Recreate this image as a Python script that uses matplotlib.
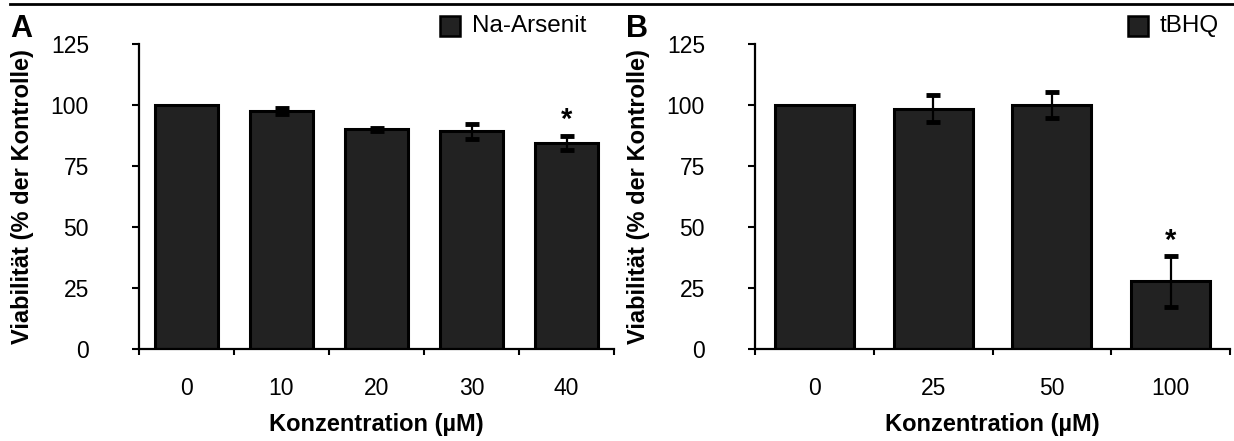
import matplotlib
matplotlib.use("Agg")
import matplotlib.pyplot as plt
from matplotlib.patches import Rectangle
from matplotlib.lines import Line2D
import numpy as np

plt.rcParams['font.family'] = ['Liberation Sans', 'DejaVu Sans']

# ---- data ----
cats_a = ["0", "10", "20", "30", "40"]
vals_a = [100.0, 97.3, 89.9, 89.1, 84.4]
errs_a = [0.0, 1.2, 0.7, 3.2, 3.0]
sig_a = [False, False, False, False, True]
legend_a = "Na-Arsenit"

cats_b = ["0", "25", "50", "100"]
vals_b = [100.0, 98.4, 100.0, 27.7]
errs_b = [0.0, 5.4, 5.3, 10.5]
sig_b = [False, False, False, True]
legend_b = "tBHQ"

xlabel = "Konzentration (µM)"
ylabel = "Viabilität (% der Kontrolle)"
yticks = [0, 25, 50, 75, 100, 125]

W, H = 1234, 441
fig = plt.figure(figsize=(W / 100, H / 100), dpi=100)

bar_fc = "#222222"

def px(x, y):
    return x / W, 1 - y / H

def panel(left_px, cats, vals, errs, sig, letter, leg_text, leg_box_px, leg_text_px):
    ax_w = 475 / W
    ax = fig.add_axes([left_px / W, 1 - 349 / H, ax_w, (349 - 43.7) / H])
    n = len(cats)
    x = np.arange(n)
    ax.bar(x, vals, width=0.665, color=bar_fc, edgecolor="black", linewidth=2.2, zorder=2)
    idx = [i for i in range(n) if errs[i] > 0]
    ax.errorbar([x[i] for i in idx], [vals[i] for i in idx], yerr=[errs[i] for i in idx],
                fmt="none", ecolor="black", elinewidth=1.6,
                capsize=5, capthick=3.5, zorder=3)
    for xi, v, e, s in zip(x, vals, errs, sig):
        if s:
            ax.text(xi, v + e + 0.5, "*", ha="center", va="bottom", fontsize=21,
                    fontweight="bold", zorder=4)
    ax.set_xlim(-0.5, n - 0.5)
    ax.set_ylim(0, 125)
    ax.set_yticks(yticks)
    ax.set_yticklabels([str(t) for t in yticks], fontsize=16.5)
    ax.set_xticks(x)
    ax.set_xticklabels(cats, fontsize=16.5)
    ax.set_xticks(np.arange(n + 1) - 0.5, minor=True)
    ax.tick_params(axis="x", which="major", length=0, pad=20)
    ax.tick_params(axis="x", which="minor", length=4.5, width=1.5, direction="out")
    ax.tick_params(axis="y", which="major", length=5, width=1.5, direction="out", pad=31)
    for sp in ["top", "right"]:
        ax.spines[sp].set_visible(False)
    for sp in ["left", "bottom"]:
        ax.spines[sp].set_linewidth(1.6)
    ax.set_xlabel(xlabel, fontsize=17, fontweight="bold", va="center")
    ax.xaxis.set_label_coords(0.5, -(424 - 349) / 305.3)
    ax.set_ylabel(ylabel, fontsize=17, fontweight="bold", va="center")
    ax.yaxis.set_label_coords(-(139 - 23) / 475, 0.5)
    # panel letter
    lx, ly = px(left_px - 118, 29)
    fig.text(lx, ly, letter, fontsize=22, fontweight="bold", ha="center", va="center")
    # legend
    bx, by = px(leg_box_px[0], leg_box_px[1] + 20)
    fig.add_artist(Rectangle((bx, by), 20 / W, 20 / H, transform=fig.transFigure,
                             facecolor=bar_fc, edgecolor="black", linewidth=1.8))
    tx, ty = px(leg_text_px[0], leg_text_px[1])
    fig.text(tx, ty, leg_text, fontsize=17.5, ha="left", va="center")
    return ax

panel(139, cats_a, vals_a, errs_a, sig_a, "A", legend_a, (440, 16), (472, 26))
panel(755, cats_b, vals_b, errs_b, sig_b, "B", legend_b, (1128, 16), (1160, 26))

# top rule
fig.add_artist(Line2D([10 / W, 1.0], [1 - 4 / H, 1 - 4 / H], transform=fig.transFigure,
                      color="black", linewidth=2))

fig.savefig("out.png", dpi=100)
